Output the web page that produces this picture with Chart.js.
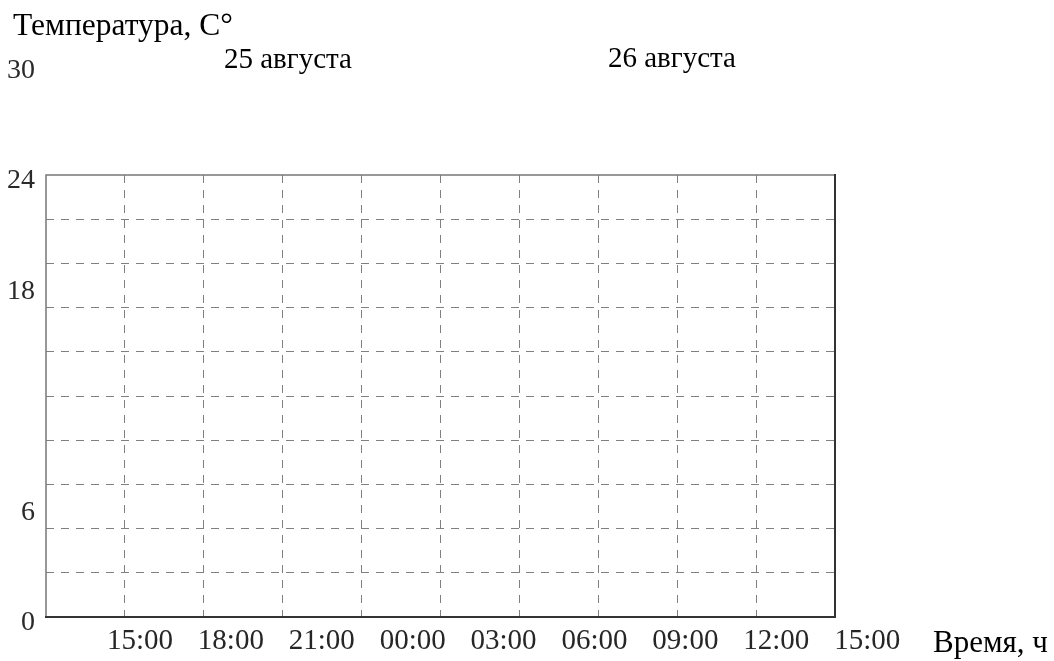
<!DOCTYPE html>
<html lang="ru">
<head>
<meta charset="utf-8">
<title>Температура</title>
<script src="https://cdn.jsdelivr.net/npm/chart.js@4.4.1/dist/chart.umd.min.js"></script>
<style>
  html, body { margin: 0; padding: 0; background: #fff; }
  #wrap { width: 1054px; height: 661px; }
</style>
</head>
<body>
<div id="wrap"><canvas id="chart" width="1054" height="661"></canvas></div>
<script>
// hours counted from 25 Aug 00:00
const timeLabels = ["15:00", "18:00", "21:00", "00:00", "03:00", "06:00", "09:00", "12:00", "15:00"];
const timeHours = [15, 18, 21, 24, 27, 30, 33, 36, 39];
const tempLabels = [0, 6, 18, 24, 30];
const tempGrid = [0, 2.4, 4.8, 7.2, 9.6, 12, 14.4, 16.8, 19.2, 21.6, 24];
const days = ["25 августа", "26 августа"];
const temperatures = []; // blank worksheet, nothing plotted yet

const SERIF = '"Liberation Serif", "Times New Roman", serif';

const frameAndText = {
  id: "frameAndText",
  afterDraw(chart) {
    const { ctx, chartArea: a, scales } = chart;
    ctx.save();

    // plot frame: light top/left, heavier right/bottom
    ctx.lineCap = "square";
    ctx.strokeStyle = "#777";
    ctx.lineWidth = 1.5;
    ctx.beginPath();
    ctx.moveTo(a.left, a.bottom);
    ctx.lineTo(a.left, a.top);
    ctx.lineTo(a.right, a.top);
    ctx.stroke();
    ctx.strokeStyle = "#333";
    ctx.lineWidth = 2;
    ctx.beginPath();
    ctx.moveTo(a.right, a.top);
    ctx.lineTo(a.right, a.bottom);
    ctx.lineTo(a.left, a.bottom);
    ctx.stroke();

    // y labels
    ctx.fillStyle = "#2a2a2a";
    ctx.font = "28px " + SERIF;
    ctx.textAlign = "right";
    ctx.textBaseline = "middle";
    tempLabels.forEach((v) => {
      ctx.fillText(String(v), 35, scales.y.getPixelForValue(v) + 6);
    });

    // x labels (spaced on their own helper axis)
    ctx.fillStyle = "#262626";
    ctx.font = "29px " + SERIF;
    ctx.textAlign = "center";
    ctx.textBaseline = "alphabetic";
    timeLabels.forEach((t, i) => {
      ctx.fillText(t, scales.xl.getPixelForValue(i), 649);
    });

    // titles
    ctx.fillStyle = "#000";
    ctx.textAlign = "left";
    ctx.font = "31.5px " + SERIF;
    ctx.fillText("Температура, С°", 13, 35);
    ctx.font = "31px " + SERIF;
    ctx.fillText("Время, ч", 933, 652);

    ctx.font = "29px " + SERIF;
    ctx.textAlign = "center";
    const dayAt = [21.2, 35.8];
    const dayBase = [68, 67];
    days.forEach((d, i) => {
      ctx.fillText(d, scales.x.getPixelForValue(dayAt[i]), dayBase[i]);
    });

    ctx.restore();
  },
};

const gridColor = (edgeA, edgeB) => (c) =>
  c.tick && (c.tick.value === edgeA || c.tick.value === edgeB) ? "rgba(0,0,0,0)" : "#808080";

new Chart(document.getElementById("chart"), {
  type: "line",
  data: {
    datasets: [
      {
        label: "Температура",
        data: temperatures,
        borderColor: "#000",
        xAxisID: "x",
        yAxisID: "y",
      },
    ],
  },
  options: {
    responsive: false,
    animation: false,
    layout: {
      padding: { left: 46, top: 175, right: 219, bottom: 44 },
    },
    plugins: {
      legend: { display: false },
      tooltip: { enabled: false },
    },
    scales: {
      x: {
        type: "linear",
        min: 12,
        max: 42,
        afterBuildTicks: (scale) => {
          scale.ticks = [12, ...timeHours, 42].map((v) => ({ value: v }));
        },
        ticks: { display: false },
        grid: { color: gridColor(12, 42), lineWidth: 1, drawTicks: false },
        border: { display: false, dash: [8, 7] },
      },
      xl: {
        type: "linear",
        display: false,
        position: "bottom",
        min: -1.034,
        max: 7.646,
      },
      y: {
        type: "linear",
        min: 0,
        max: 24,
        afterBuildTicks: (scale) => {
          scale.ticks = tempGrid.map((v) => ({ value: v }));
        },
        ticks: { display: false },
        grid: { color: gridColor(0, 24), lineWidth: 1, drawTicks: false },
        border: { display: false, dash: [8, 7] },
      },
    },
  },
  plugins: [frameAndText],
});
</script>
</body>
</html>
